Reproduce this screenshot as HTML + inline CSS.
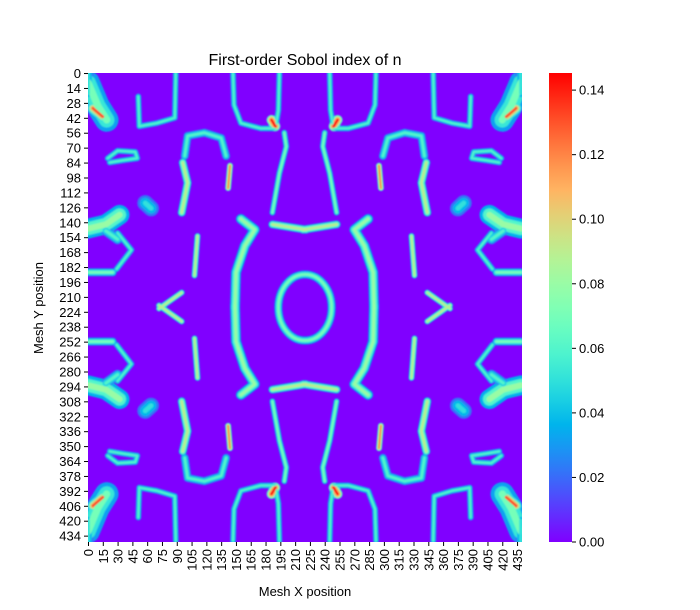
<!DOCTYPE html>
<html><head><meta charset="utf-8"><style>
body{margin:0;background:#fff;}
svg{display:block;font-family:"Liberation Sans","DejaVu Sans",sans-serif;}
</style></head><body>
<svg id="chart" width="700" height="610" viewBox="0 0 700 610">
<defs>
<filter id="blur" x="-20%" y="-20%" width="140%" height="140%"><feGaussianBlur stdDeviation="0.9"/></filter>
<clipPath id="clip"><rect x="88" y="73" width="434" height="469"/></clipPath>
<linearGradient id="cbgrad" x1="0" y1="1" x2="0" y2="0"></linearGradient>
</defs>
<text x="305" y="65" text-anchor="middle" font-size="16" fill="#000">First-order Sobol index of n</text>
<rect x="88" y="73" width="434" height="469" fill="#8000ff"/>
<g id="marks" clip-path="url(#clip)" filter="url(#blur)"></g>
<g id="yticks"></g>
<g id="xticks"></g>
<text x="305" y="596" text-anchor="middle" font-size="13">Mesh X position</text>
<text transform="translate(43,308) rotate(-90)" text-anchor="middle" font-size="13">Mesh Y position</text>
<rect x="549" y="73" width="23" height="469" fill="url(#cbgrad)"/>
<g id="cbticks"></g>
</svg>
<script>
const nRows = 440, nCols = 440, vmax = 0.1453;
const xTickLabels = [0,15,30,45,60,75,90,105,120,135,150,165,180,195,210,225,240,255,270,285,300,315,330,345,360,375,390,405,420,435];
const yTickLabels = [0,14,28,42,56,70,84,98,112,126,140,154,168,182,196,210,224,238,252,266,280,294,308,322,336,350,364,378,392,406,420,434];
const cbTicks = [0,0.02,0.04,0.06,0.08,0.10,0.12,0.14];
// Features in top-left quadrant (data units: [col,row]); mirrored by symmetry
const featurePts = [
 [[0,9],[10,31],[19,44]],
 [[5,33],[15,41]],
 [[0,0],[0,19]],
 [[51,22],[52,50],[70,47],[88,42],[89,0]],
 [[147,0],[148,30],[155,47],[175,52],[190,52],[193,35],[194,0]],
 [[186,44],[190,50]],
 [[199,56],[201,69],[194,94],[187,131]],
 [[98,78],[101,59],[118,56],[135,61],[140,78]],
 [[96,84],[101,103],[95,131]],
 [[144,87],[142,108]],
 [[20,80],[30,73],[48,74],[50,80],[35,82],[22,84]],
 [[58,122],[64,127]],
 [[0,146],[18,142],[32,133]],
 [[30,150],[44,166],[29,184]],
 [[0,187],[25,187]],
 [[111,153],[108,190]],
 [[155,137],[169,147],[159,162],[150,187],[149,221]],
 [[187,142],[221,147]],
 [[72,221],[95,206]],
 [[18,148],[30,156]]
];
const featureWidth = [12,5,6,3,3,5,3,4,4,3,3,8,10,3,4,3,5,4,3,5];
const featureValue = [0.07,0.13,0.05,0.06,0.06,0.14,0.07,0.06,0.09,0.12,0.06,0.05,0.08,0.06,0.07,0.09,0.08,0.09,0.09,0.06];
const ringCenter = [220,220], ringRadius = [27,31], ringValue = 0.07;

const px0=88, py0=73, pw=434, ph=469;
const xs = c => px0 + c*pw/nCols;
const ys = r => py0 + r*ph/nRows;
const cs = v => 542 - v*ph/vmax;
function color(v){
  const t=Math.max(0,Math.min(1,v/vmax));
  const r=Math.min(1,Math.abs(2*t-0.5)), g=Math.sin(Math.PI*t), b=Math.cos(Math.PI*t/2);
  return `rgb(${Math.round(r*255)},${Math.round(g*255)},${Math.round(b*255)})`;
}
const NS="http://www.w3.org/2000/svg";
const marks=document.getElementById('marks');
const layers=[[2.0,0.45],[1.3,0.75],[0.6,1.0]];
layers.forEach(([wf,vf])=>{
featurePts.forEach((pts,i)=>{
  [[0,0],[1,0],[0,1],[1,1]].forEach(([mx,my])=>{
    const d=pts.map(([c,r])=>{const cc=mx?nCols-1-c:c, rr=my?nRows-1-r:r;return xs(cc).toFixed(1)+','+ys(rr).toFixed(1);}).join(' ');
    const pl=document.createElementNS(NS,'polyline');
    
    
    pl.setAttribute('points',d);
    pl.setAttribute('fill','none');
    pl.setAttribute('stroke',color(featureValue[i]*vf));
    pl.setAttribute('stroke-width',featureWidth[i]*wf*pw/nCols);
    pl.setAttribute('stroke-linecap','round');
    pl.setAttribute('stroke-linejoin','round');
    marks.appendChild(pl);
  });
});
const ring=document.createElementNS(NS,'ellipse');


ring.setAttribute('cx',xs(ringCenter[0]));ring.setAttribute('cy',ys(ringCenter[1]));
ring.setAttribute('rx',ringRadius[0]*pw/nCols);ring.setAttribute('ry',ringRadius[1]*ph/nRows);
ring.setAttribute('fill','none');ring.setAttribute('stroke',color(ringValue*vf));ring.setAttribute('stroke-width',4*wf);
marks.appendChild(ring);
});

const yt=document.getElementById('yticks');
yTickLabels.forEach(v=>{
  const y=ys(v+0.5);
  const l=document.createElementNS(NS,'line');
  
  
  l.setAttribute('x1',84);l.setAttribute('x2',88);l.setAttribute('y1',y);l.setAttribute('y2',y);l.setAttribute('stroke','#000');
  yt.appendChild(l);
  const t=document.createElementNS(NS,'text');
  
  
  t.setAttribute('x',81);t.setAttribute('y',y+4.5);t.setAttribute('text-anchor','end');t.setAttribute('font-size','13');
  t.textContent=v;yt.appendChild(t);
});
const xt=document.getElementById('xticks');
xTickLabels.forEach(v=>{
  const x=xs(v+0.5);
  const l=document.createElementNS(NS,'line');
  
  
  l.setAttribute('x1',x);l.setAttribute('x2',x);l.setAttribute('y1',542);l.setAttribute('y2',546);l.setAttribute('stroke','#000');
  xt.appendChild(l);
  const t=document.createElementNS(NS,'text');
  
  
  t.setAttribute('transform',`translate(${x+4.5},549) rotate(-90)`);t.setAttribute('text-anchor','end');t.setAttribute('font-size','13');
  t.textContent=v;xt.appendChild(t);
});
const grad=document.getElementById('cbgrad');
for(let i=0;i<=20;i++){
  const s=document.createElementNS(NS,'stop');
  s.setAttribute('offset',i/20);s.setAttribute('stop-color',color(vmax*i/20));grad.appendChild(s);
}
const cb=document.getElementById('cbticks');
cbTicks.forEach(v=>{
  const y=cs(v);
  const l=document.createElementNS(NS,'line');
  
  
  l.setAttribute('x1',572);l.setAttribute('x2',576);l.setAttribute('y1',y);l.setAttribute('y2',y);l.setAttribute('stroke','#000');
  cb.appendChild(l);
  const t=document.createElementNS(NS,'text');
  
  
  t.setAttribute('x',579);t.setAttribute('y',y+4.5);t.setAttribute('font-size','13');
  t.textContent=v.toFixed(2);cb.appendChild(t);
});
</script>
</body></html>
